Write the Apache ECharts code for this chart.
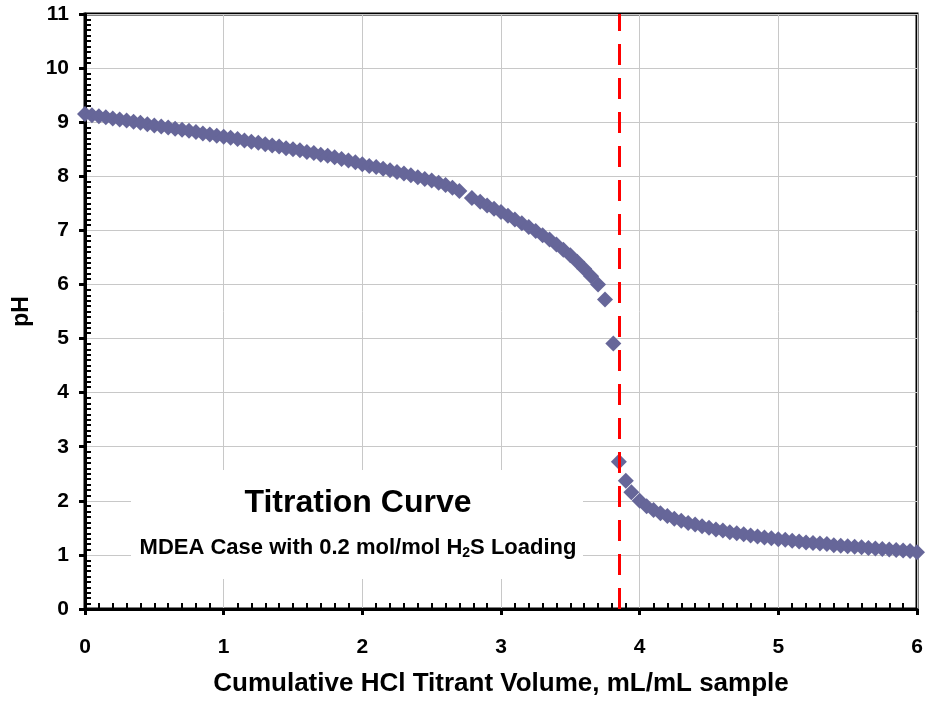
<!DOCTYPE html>
<html>
<head>
<meta charset="utf-8">
<script src="https://cdn.jsdelivr.net/npm/echarts@6/dist/echarts.min.js"></script>
<style>
  html, body { margin: 0; padding: 0; background: #fff; }
  #chart { width: 926px; height: 702px; }
</style>
</head>
<body>
<div id="chart"></div>
<script>
// titration data: cumulative HCl volume (mL/mL sample) vs pH
const volumes = [
  0.00, 0.05, 0.10, 0.15, 0.20, 0.25, 0.30, 0.35, 0.40, 0.45,
  0.50, 0.55, 0.60, 0.65, 0.70, 0.75, 0.80, 0.85, 0.90, 0.95,
  1.00, 1.05, 1.10, 1.15, 1.20, 1.25, 1.30, 1.35, 1.40, 1.45,
  1.50, 1.55, 1.60, 1.65, 1.70, 1.75, 1.80, 1.85, 1.90, 1.95,
  2.00, 2.05, 2.10, 2.15, 2.20, 2.25, 2.30, 2.35, 2.40, 2.45,
  2.50, 2.55, 2.60, 2.65, 2.70, 2.79, 2.85, 2.90, 2.95,
  3.00, 3.05, 3.10, 3.15, 3.20, 3.25, 3.30, 3.35, 3.40, 3.45,
  3.50, 3.55, 3.60, 3.65, 3.70, 3.75, 3.81, 3.85, 3.90, 3.94,
  4.00, 4.05, 4.10, 4.15, 4.20, 4.25, 4.30, 4.35, 4.40, 4.45,
  4.50, 4.55, 4.60, 4.65, 4.70, 4.75, 4.80, 4.85, 4.90, 4.95,
  5.00, 5.05, 5.10, 5.15, 5.20, 5.25, 5.30, 5.35, 5.40, 5.45,
  5.50, 5.55, 5.60, 5.65, 5.70, 5.75, 5.80, 5.85, 5.90, 5.95,
  6.00
];
const phValues = [
  9.15, 9.13, 9.11, 9.09, 9.07, 9.05, 9.03, 9.01, 8.99, 8.96,
  8.94, 8.92, 8.90, 8.88, 8.86, 8.84, 8.82, 8.79, 8.77, 8.75,
  8.73, 8.71, 8.69, 8.66, 8.64, 8.62, 8.59, 8.57, 8.55, 8.52,
  8.50, 8.48, 8.45, 8.43, 8.40, 8.38, 8.35, 8.32, 8.29, 8.26,
  8.22, 8.19, 8.17, 8.14, 8.11, 8.08, 8.05, 8.02, 7.98, 7.95,
  7.92, 7.88, 7.84, 7.79, 7.73, 7.60, 7.53, 7.46, 7.40,
  7.34, 7.27, 7.20, 7.13, 7.06, 6.99, 6.91, 6.83, 6.74, 6.64,
  6.54, 6.42, 6.29, 6.15, 6.00, 5.72, 4.91, 2.72, 2.37, 2.16,
  2.00, 1.90, 1.83, 1.77, 1.72, 1.67, 1.63, 1.59, 1.56, 1.53,
  1.50, 1.47, 1.45, 1.42, 1.40, 1.38, 1.36, 1.34, 1.32, 1.31,
  1.29, 1.28, 1.26, 1.25, 1.23, 1.22, 1.21, 1.20, 1.18, 1.17,
  1.16, 1.15, 1.14, 1.13, 1.12, 1.11, 1.10, 1.09, 1.08, 1.07,
  1.05
];
const endpointVolume = 3.85;
const chartTitle = 'Titration Curve';
const xAxisName = 'Cumulative HCl Titrant Volume, mL/mL sample';
const yAxisName = 'pH';

const FONT = '"Liberation Sans", Arial, sans-serif';
const points = volumes.map((v, i) => [v, phValues[i]]);

const chart = echarts.init(document.getElementById('chart'));

chart.setOption({
  animation: false,
  backgroundColor: '#ffffff',
  grid: {
    left: 85,
    right: 9,
    top: 14,
    bottom: 90,
    show: true,
    borderColor: '#000',
    borderWidth: 3
  },
  xAxis: [
    {
      type: 'value',
      min: 0,
      max: 6,
      interval: 1,
      name: xAxisName,
      nameLocation: 'middle',
      nameGap: 62,
      nameTextStyle: { fontFamily: FONT, fontWeight: 'bold', fontSize: 26, color: '#000' },
      axisLine: { show: true, onZero: false, lineStyle: { color: '#000', width: 3 } },
      axisTick: { show: true, inside: false, length: 6, lineStyle: { color: '#000', width: 3 } },
      axisLabel: { margin: 28, fontFamily: FONT, fontWeight: 'bold', fontSize: 21, color: '#000' },
      splitLine: { show: true, lineStyle: { color: '#c8c8c8', width: 1 } }
    },
    {
      // minor ticks pointing into the plot
      type: 'value',
      min: 0,
      max: 6,
      interval: 1,
      position: 'bottom',
      axisLine: { show: false },
      axisTick: { show: false, inside: true },
      minorTick: { show: true, splitNumber: 10, length: 6, lineStyle: { color: '#000', width: 2 } },
      axisLabel: { show: false },
      splitLine: { show: false }
    }
  ],
  yAxis: [
    {
      type: 'value',
      min: 0,
      max: 11,
      interval: 1,
      name: yAxisName,
      nameLocation: 'middle',
      nameGap: 52,
      nameTextStyle: { fontFamily: FONT, fontWeight: 'bold', fontSize: 23, color: '#000' },
      axisLine: { show: true, onZero: false, lineStyle: { color: '#000', width: 3 } },
      axisTick: { show: true, inside: false, length: 6, lineStyle: { color: '#000', width: 3 } },
      axisLabel: { margin: 16, fontFamily: FONT, fontWeight: 'bold', fontSize: 21, color: '#000' },
      splitLine: { show: true, lineStyle: { color: '#c8c8c8', width: 1 } }
    },
    {
      type: 'value',
      min: 0,
      max: 11,
      interval: 1,
      position: 'left',
      axisLine: { show: false },
      axisTick: { show: false, inside: true },
      minorTick: { show: true, splitNumber: 10, length: 6, lineStyle: { color: '#000', width: 2 } },
      axisLabel: { show: false },
      splitLine: { show: false }
    }
  ],
  graphic: [
    {
      type: 'rect',
      z: 1,
      shape: { x: 131, y: 470, width: 452, height: 109 },
      style: { fill: '#ffffff' }
    },
    {
      type: 'text',
      z: 2,
      x: 358,
      y: 503,
      style: {
        text: chartTitle,
        align: 'center',
        verticalAlign: 'middle',
        font: 'bold 32px ' + FONT,
        fill: '#000'
      }
    },
    {
      type: 'text',
      z: 2,
      x: 358,
      y: 548,
      style: {
        text: '{n|MDEA Case with 0.2 mol/mol H}{s|2}{n|S Loading}',
        align: 'center',
        verticalAlign: 'middle',
        fill: '#000',
        rich: {
          n: { fontFamily: FONT, fontWeight: 'bold', fontSize: 22, lineHeight: 24, fill: '#000' },
          s: { fontFamily: FONT, fontWeight: 'bold', fontSize: 14, lineHeight: 9, verticalAlign: 'bottom', fill: '#000' }
        }
      }
    }
  ],
  series: [
    {
      type: 'scatter',
      data: points,
      symbol: 'diamond',
      symbolSize: 16,
      itemStyle: { color: '#666699', opacity: 1 },
      markLine: {
        silent: true,
        symbol: 'none',
        label: { show: false },
        lineStyle: { color: '#ff0000', width: 3, type: [21, 13], opacity: 1 },
        data: [{ xAxis: endpointVolume }]
      }
    }
  ]
});
</script>
</body>
</html>
